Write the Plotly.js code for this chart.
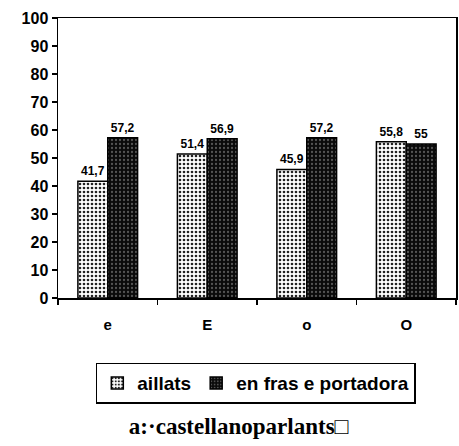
<!DOCTYPE html>
<html>
<head>
<meta charset="utf-8">
<script src="https://cdn.plot.ly/plotly-3.0.1.min.js"></script>
<style>
  html, body { margin: 0; padding: 0; background: #fff; }
  #chart { width: 459px; height: 446px; }
</style>
</head>
<body>
<div id="chart"></div>
<script>
// Vowel categories and the two measured series
const vowels = ['e', 'E', 'o', 'O'];
const aillats = [41.7, 51.4, 45.9, 55.8];
const enFrasePortadora = [57.2, 56.9, 57.2, 55];
const yTicks = [0, 10, 20, 30, 40, 50, 60, 70, 80, 90, 100];

// Decimal comma labels, as written in Catalan
const fmt = v => String(v).replace('.', ',');

const boldFont = 'Liberation Sans, Arial, sans-serif';

const traces = [
  {
    type: 'bar',
    name: 'aillats',
    x: vowels,
    y: aillats,
    text: aillats.map(fmt),
    textposition: 'outside',
    cliponaxis: false,
    textfont: { family: boldFont, size: 12, color: '#000', weight: 'bold' },
    marker: {
      color: '#fff',
      line: { color: '#000', width: 1.5 },
      pattern: { shape: '.', bgcolor: '#fff', fgcolor: '#222', size: 4, solidity: 0.35 }
    }
  },
  {
    type: 'bar',
    name: 'en fras e portadora',
    x: vowels,
    y: enFrasePortadora,
    text: enFrasePortadora.map(fmt),
    textposition: 'outside',
    cliponaxis: false,
    textfont: { family: boldFont, size: 12, color: '#000', weight: 'bold' },
    marker: {
      color: '#0a0a0a',
      line: { color: '#000', width: 1.5 },
      pattern: { shape: '.', bgcolor: '#0a0a0a', fgcolor: '#555', size: 4, solidity: 0.25 }
    }
  }
];

const layout = {
  width: 459,
  height: 446,
  margin: { l: 58, r: 3, t: 18, b: 148 },
  paper_bgcolor: '#fff',
  plot_bgcolor: '#fff',
  barmode: 'group',
  bargap: 0.4,
  bargroupgap: 0,
  showlegend: true,
  font: { family: boldFont, color: '#000' },
  title: {
    text: 'a:·castellanoparlants□',
    font: { family: 'Liberation Serif, DejaVu Serif, serif', size: 23, color: '#000', weight: 'bold' },
    x: 0.52,
    xanchor: 'center',
    y: 0.045,
    yanchor: 'middle',
    yref: 'container'
  },
  xaxis: {
    type: 'category',
    showline: true,
    linecolor: '#000',
    linewidth: 1.5,
    mirror: true,
    ticks: 'outside',
    tickson: 'boundaries',
    ticklen: 5,
    tickcolor: '#000',
    tickwidth: 1.5,
    tickfont: { family: boldFont, size: 15, color: '#000', weight: 'bold' },
    ticklabelstandoff: 12,
    showgrid: false,
    zeroline: false
  },
  yaxis: {
    range: [0, 100],
    tickvals: yTicks,
    ticktext: yTicks.map(String),
    showline: true,
    linecolor: '#000',
    linewidth: 1.5,
    mirror: true,
    ticks: 'outside',
    ticklen: 5,
    tickcolor: '#000',
    tickwidth: 1.5,
    tickfont: { family: boldFont, size: 16, color: '#000', weight: 'bold' },
    showgrid: false,
    zeroline: false
  },
  legend: {
    orientation: 'h',
    x: 0.497,
    xanchor: 'center',
    y: -0.304,
    yanchor: 'middle',
    bordercolor: '#000',
    borderwidth: 1.5,
    bgcolor: '#fff',
    font: { family: boldFont, size: 19, color: '#000', weight: 'bold' },
    itemwidth: 30,
    tracegroupgap: 0
  }
};

Plotly.newPlot('chart', traces, layout, { staticPlot: true, displayModeBar: false });
</script>
</body>
</html>
